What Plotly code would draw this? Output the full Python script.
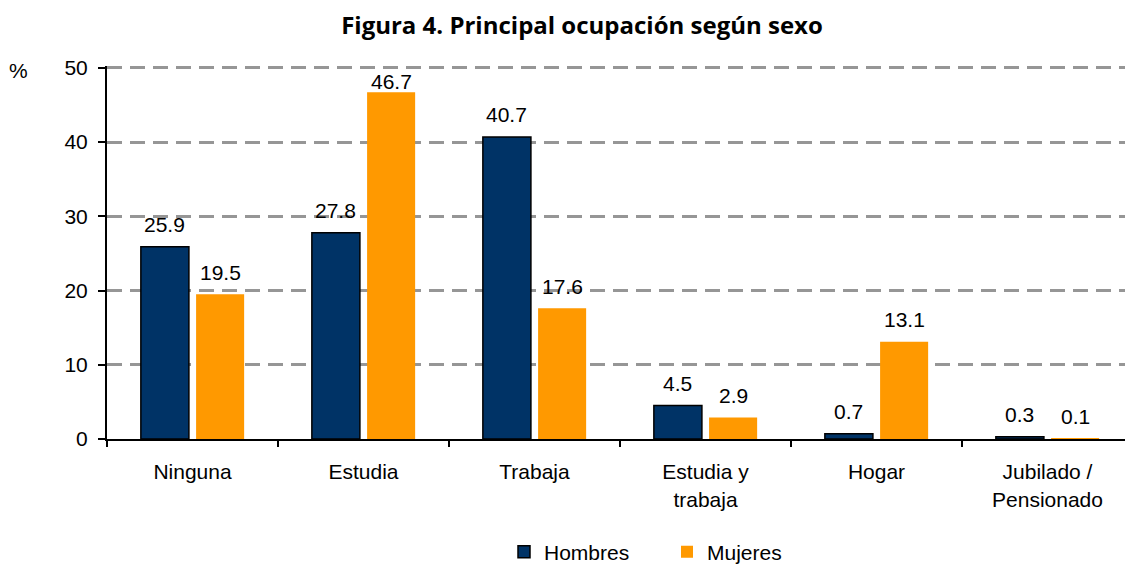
import plotly.graph_objects as go

categories = ["Ninguna", "Estudia", "Trabaja", "Estudia y<br>trabaja", "Hogar", "Jubilado /<br>Pensionado"]
hombres = [25.9, 27.8, 40.7, 4.5, 0.7, 0.3]
mujeres = [19.5, 46.7, 17.6, 2.9, 13.1, 0.1]
y_ticks = [0, 10, 20, 30, 40, 50]

FONT = "Liberation Sans, Arial, sans-serif"
FS = 21
OFF = 8  # the page body adds an 8px margin around the figure
W, H = 1133 - OFF, 565 - OFF
Y_MAX = 50.25          # a bit above 50 so the top gridline is kept
PX_PER_UNIT = 7.42
ML, MR, MB = 107 - OFF, 0, 565 - 439
MT = H - MB - Y_MAX * PX_PER_UNIT
BARGAP = 0.354
BARGROUPGAP = 0.13
PW, PH = W - ML - MR, H - MT - MB


def sx_to_paper(px):
    return (px - OFF - ML) / PW


def sy_to_paper(py):
    return (H - MB - (py - OFF)) / PH


fig = go.Figure()
fig.add_trace(go.Bar(x=categories, y=hombres, name="Hombres",
                     marker=dict(color="#003366", line=dict(color="#000000", width=1.5))))
fig.add_trace(go.Bar(x=categories, y=mujeres, name="Mujeres",
                     marker=dict(color="#FF9900", line=dict(width=0))))

# data labels above the bars
cat_w = PW / len(categories)
slot = (1 - BARGAP) * cat_w / 2
label_gap = 22
annotations = []
for series, sign in ((hombres, -1), (mujeres, 1)):
    for c, v in zip(categories, series):
        gap = label_gap
        if v > 45:  # label squeezed under the top of the plot area
            gap = 11
        annotations.append(dict(x=c, y=v, xref="x", yref="y", text=f"{v:.1f}",
                                showarrow=False, xshift=sign * slot / 2, yshift=gap,
                                yanchor="middle", font=dict(family=FONT, size=FS, color="#000")))
annotations.append(dict(x=sx_to_paper(18), y=sy_to_paper(71), xref="paper", yref="paper",
                        text="%", showarrow=False, xanchor="center", yanchor="middle",
                        font=dict(family=FONT, size=FS, color="#000")))

fig.update_layout(
    width=W, height=H, autosize=False,
    margin=dict(l=ML, r=MR, t=MT, b=MB, autoexpand=False),
    paper_bgcolor="white", plot_bgcolor="white",
    barmode="group", bargap=BARGAP, bargroupgap=BARGROUPGAP,
    font=dict(family=FONT, size=FS, color="#000"),
    title=dict(text="<b>Figura 4. Principal ocupación según sexo</b>",
               x=(582 - OFF) / W, xref="container", xanchor="center",
               y=1 - 17.5 / H, yref="container", yanchor="middle", pad=dict(t=0, b=0),
               font=dict(family="Open Sans, sans-serif", size=24, color="#000")),
    showlegend=True,
    legend=dict(orientation="h", xref="container", x=(504 - OFF) / W, xanchor="left",
                yref="container", y=(565 - 552) / H, yanchor="middle",
                entrywidth=118, entrywidthmode="pixels",
                font=dict(family=FONT, size=FS, color="#000"),
                bgcolor="rgba(0,0,0,0)"),
    annotations=annotations,
)
fig.update_xaxes(type="category", tickson="boundaries", ticks="outside", ticklen=6, tickwidth=2,
                 tickcolor="#000", showline=True, linecolor="#000", linewidth=2,
                 showgrid=False, ticklabelstandoff=13, automargin=False,
                 tickfont=dict(family=FONT, size=FS, color="#000"))
fig.update_yaxes(range=[0, Y_MAX], tickvals=y_ticks, ticks="outside", ticklen=7, tickwidth=2,
                 tickcolor="#000", showline=True, linecolor="#000", linewidth=2,
                 showgrid=True, gridcolor="#969696", gridwidth=2.5, griddash="15px,8px",
                 zeroline=False, ticklabelstandoff=6, automargin=False,
                 tickfont=dict(family=FONT, size=FS, color="#000"))

fig.write_html("out.html")
